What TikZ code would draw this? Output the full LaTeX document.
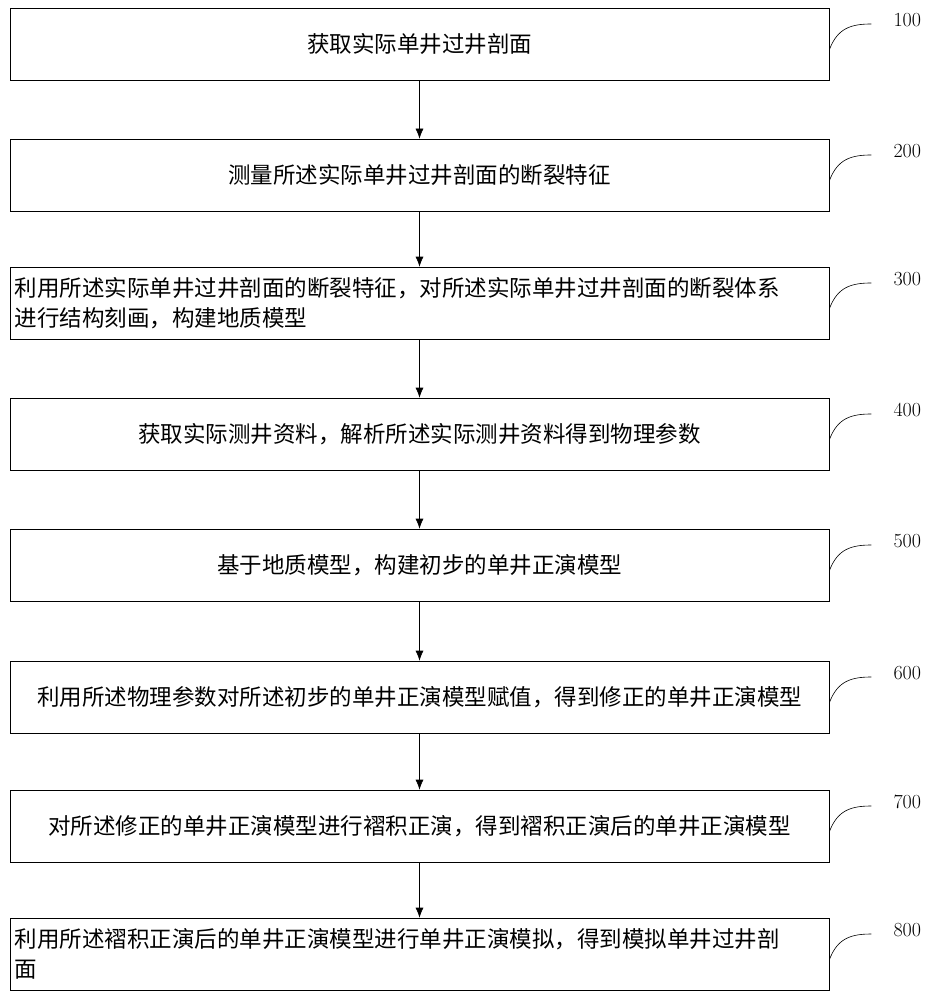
\documentclass[tikz,border=0pt]{standalone}
\usepackage{fontspec}
\newfontfamily\cjk{Noto Sans CJK SC}
\usetikzlibrary{arrows.meta}
\tikzset{
  stepbox/.style={draw, semithick, minimum width=819pt, minimum height=72pt, inner sep=0pt,
    font=\cjk\fontsize{22.5}{30}\selectfont},
  flow/.style={-{Latex[length=10pt,width=8pt]}, semithick}
}
\begin{document}
\begin{tikzpicture}[x=1pt,y=-1pt]
        \useasboundingbox (0,0) rectangle (933,1000);
        % boxes
        \node[stepbox] (s1) at (419.5,44) {获取实际单井过井剖面};
        \node[stepbox] (s2) at (419.5,175) {测量所述实际单井过井剖面的断裂特征};
        \node[stepbox, align=left, text width=810pt] (s3) at (419.5,303) {利用所述实际单井过井剖面的断裂特征，对所述实际单井过井剖面的断裂体系\\进行结构刻画，构建地质模型};
        \node[stepbox] (s4) at (419.5,434) {获取实际测井资料，解析所述实际测井资料得到物理参数};
        \node[stepbox] (s5) at (419.5,565) {基于地质模型，构建初步的单井正演模型};
        \node[stepbox] (s6) at (419.5,697) {利用所述物理参数对所述初步的单井正演模型赋值，得到修正的单井正演模型};
        \node[stepbox] (s7) at (419.5,826) {对所述修正的单井正演模型进行褶积正演，得到褶积正演后的单井正演模型};
        \node[stepbox, align=left, text width=810pt] (s8) at (419.5,954) {利用所述褶积正演后的单井正演模型进行单井正演模拟，得到模拟单井过井剖\\面};
        % arrows
        \foreach \a/\b in {s1/s2,s2/s3,s3/s4,s4/s5,s5/s6,s6/s7,s7/s8}
          \draw[flow] (\a) -- (\b);
        % step numbers
        \foreach \s/\n in {s1/100,s2/200,s3/300,s4/400,s5/500,s6/600,s7/700,s8/800}{
          \draw[semithick] ([yshift=-6pt]\s.east) .. controls +(8,-22) and +(-20,0) .. ++(42,-26) coordinate (c\n);
          \node[font=\fontsize{20}{22}\selectfont] (n\n) at ([shift={(36,-4)}]c\n) {\n};
        }
    \end{tikzpicture}
\end{document}
